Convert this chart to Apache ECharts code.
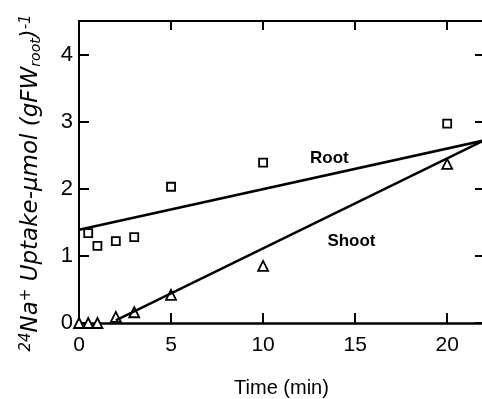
<!DOCTYPE html>
<html>
<head>
<meta charset="utf-8">
<script src="https://cdn.jsdelivr.net/npm/echarts@6/dist/echarts.min.js"></script>
<style>
  html, body { margin: 0; padding: 0; background: #fff; }
  #chart { width: 482px; height: 399px; }
</style>
</head>
<body>
<div id="chart"></div>
<script>
// measured points (time in min, uptake)
const rootPts = [[0.5, 1.34], [1, 1.15], [2, 1.22], [3, 1.28], [5, 2.03], [10, 2.39], [20, 2.97]]
const shootPts = [[0, 0], [0.5, 0], [1, 0], [2, 0.09], [3, 0.16], [5, 0.42], [10, 0.85], [20, 2.37]]
// fitted lines
const rootFit = [[0, 1.39], [22, 2.72]]
const shootFit = [[2, 0.04], [22, 2.72]]
// curve labels
const curveLabels = [[13.6, 2.45, 'Root'], [14.8, 1.22, 'Shoot']]
const xTicks = [0, 5, 10, 15, 20]
const yTicks = [0, 1, 2, 3, 4]

const font = 'Liberation Sans'
const nameFont = 'DejaVu Sans'
const chart = echarts.init(document.getElementById('chart'))

const frameAxis = {
  axisLine: { show: true, onZero: false, lineStyle: { color: '#000', width: 2 } },
  axisTick: { show: true, inside: true, length: 9, lineStyle: { color: '#000', width: 2 } },
  axisLabel: { show: false },
  splitLine: { show: false },
}

chart.setOption({
  animation: false,
  grid: { left: 79, top: 21, right: -2, bottom: 76, outerBoundsMode: 'none' },
  xAxis: [
    {
      type: 'value', min: 0, max: 22, interval: 5,
      name: 'Time (min)', nameLocation: 'middle', nameGap: 55,
      nameTextStyle: { fontFamily: font, fontSize: 20, color: '#000' },
      axisLine: { onZero: false, lineStyle: { color: '#000', width: 2.5 } },
      axisTick: { inside: true, length: 10, lineStyle: { color: '#000', width: 2 } },
      axisLabel: {
        fontFamily: font, fontSize: 21, color: '#000', margin: 12,
        formatter: v => (xTicks.includes(v) ? String(v) : ''),
      },
      splitLine: { show: false },
    },
    { type: 'value', min: 0, max: 22, interval: 5, position: 'top', ...frameAxis },
  ],
  yAxis: [
    {
      type: 'value', min: 0, max: 4.5, interval: 1,
      name: '{sup|24}{b|Na}{sup|+}{b| Uptake-\u03bcmol (gFW}{sub|root}{b|)}{sup|-1}',
      nameLocation: 'middle', nameGap: 36, nameRotate: 90,
      nameTextStyle: {
        fontFamily: nameFont, fontStyle: 'italic', color: '#000', padding: [0, 22, 0, 0],
        rich: {
          b: { fontFamily: nameFont, fontStyle: 'italic', fontSize: 23, color: '#000', verticalAlign: 'middle' },
          sup: { fontFamily: nameFont, fontStyle: 'italic', fontSize: 15, color: '#000', verticalAlign: 'top', padding: [0, 0, 9, 0] },
          sub: { fontFamily: nameFont, fontStyle: 'italic', fontSize: 14, color: '#000', verticalAlign: 'bottom', padding: [9, 0, 0, 0] },
        },
      },
      axisLine: { onZero: false, lineStyle: { color: '#000', width: 2 } },
      axisTick: { inside: true, length: 10, lineStyle: { color: '#000', width: 2 } },
      axisLabel: {
        fontFamily: font, fontSize: 22, color: '#000', margin: 6, showMaxLabel: false,
        formatter: v => (yTicks.includes(v) ? String(v) : ''),
      },
      splitLine: { show: false },
    },
    { type: 'value', min: 0, max: 4.5, interval: 1, position: 'right', ...frameAxis },
  ],
  series: [
    {
      type: 'line', data: rootFit, symbol: 'none',
      lineStyle: { color: '#000', width: 2.5 },
    },
    {
      type: 'line', data: shootFit, symbol: 'none',
      lineStyle: { color: '#000', width: 2.5 },
    },
    {
      type: 'scatter', data: rootPts, symbol: 'rect', symbolSize: 8,
      itemStyle: { color: '#fff', borderColor: '#000', borderWidth: 1.8, opacity: 1 },
    },
    {
      type: 'scatter', data: shootPts, symbol: 'triangle', symbolSize: 10,
      itemStyle: { color: '#fff', borderColor: '#000', borderWidth: 1.8, opacity: 1 },
    },
    {
      type: 'scatter', data: curveLabels, symbolSize: 0,
      itemStyle: { opacity: 1 },
      label: {
        show: true, position: 'inside', formatter: p => p.data[2],
        fontFamily: font, fontWeight: 'bold', fontSize: 17, color: '#000',
      },
    },
  ],
})
</script>
</body>
</html>
